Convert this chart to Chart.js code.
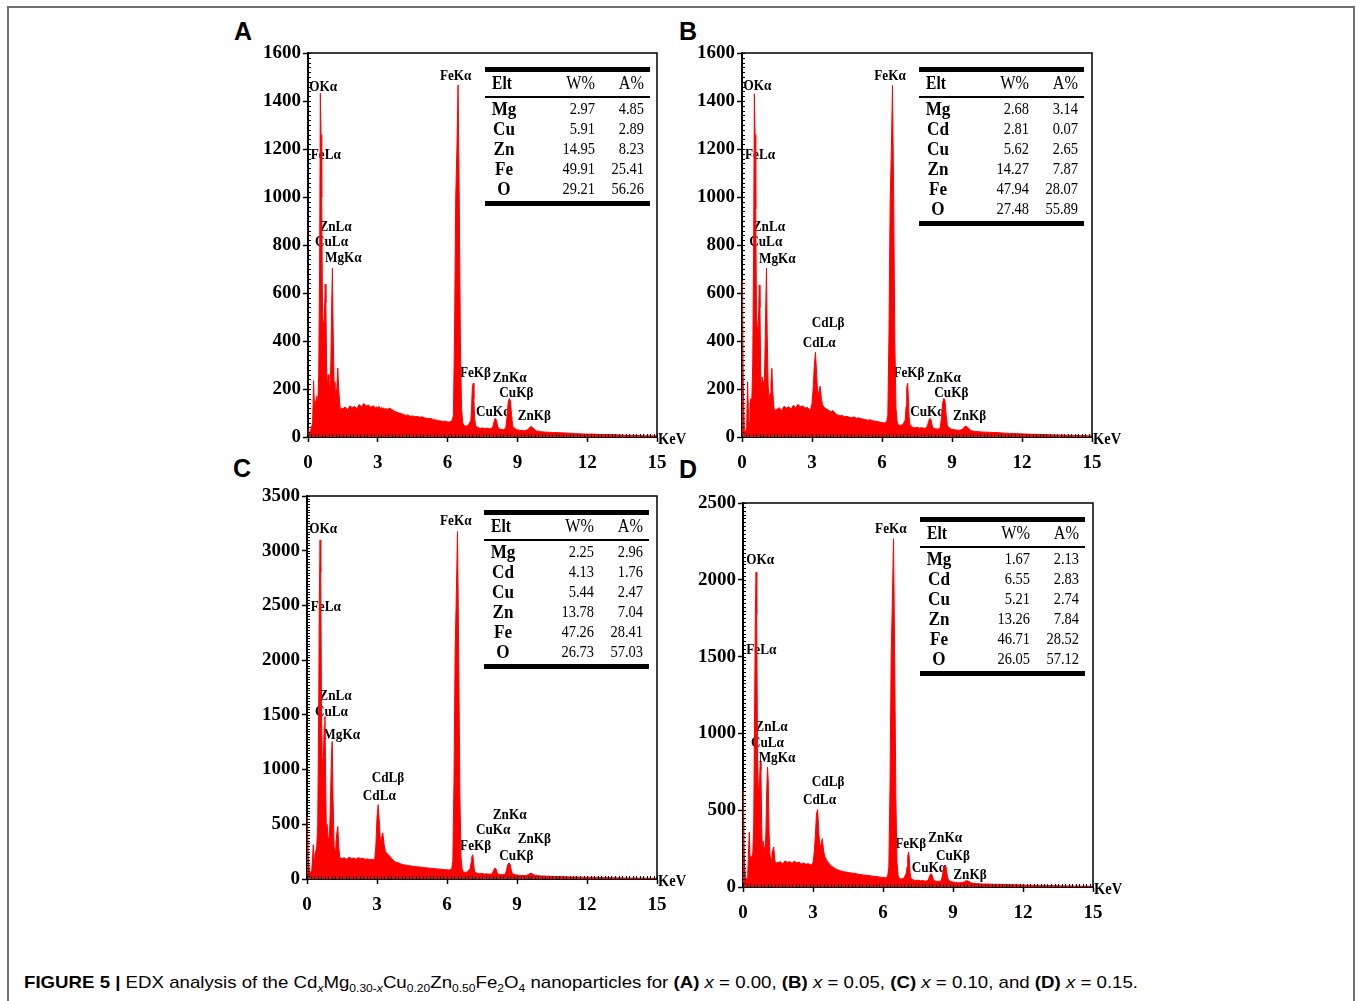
<!DOCTYPE html>
<html>
<head>
<meta charset="utf-8">
<script src="https://cdn.jsdelivr.net/npm/chart.js@4.4.1/dist/chart.umd.min.js"></script>
<style>
  html, body { margin: 0; padding: 0; background: #fff; }
  body { width: 1356px; height: 1001px; position: relative; overflow: hidden; }
  #frame { position: absolute; left: 7px; top: 6px; width: 1344px; height: 1010px; border: 2px solid #707070; border-bottom: none; }
  canvas { position: absolute; }
  .letter { position: absolute; font: bold 25px "Liberation Sans", Arial, sans-serif; line-height: 25px; color: #000; }
  #caption { position: absolute; left: 24px; top: 973px; font: 17px "Liberation Sans", Arial, sans-serif; line-height: 20px; white-space: nowrap; color: #000; transform-origin: 0 0; }
  #caption sub { font-size: 11px; vertical-align: -4px; line-height: 0; }
</style>
</head>
<body>
<div id="frame"></div>
<div class="letter" style="left:234px;top:19px">A</div>
<div class="letter" style="left:679px;top:19px">B</div>
<div class="letter" style="left:233px;top:456px">C</div>
<div class="letter" style="left:679px;top:457px">D</div>
<canvas id="chartA"></canvas>
<canvas id="chartB"></canvas>
<canvas id="chartC"></canvas>
<canvas id="chartD"></canvas>
<div id="caption"><b>FIGURE 5 |</b> EDX analysis of the Cd<sub><i>x</i></sub>Mg<sub>0.30-<i>x</i></sub>Cu<sub>0.20</sub>Zn<sub>0.50</sub>Fe<sub>2</sub>O<sub>4</sub> nanoparticles for <b>(A)</b> <i>x</i> = 0.00, <b>(B)</b> <i>x</i> = 0.05, <b>(C)</b> <i>x</i> = 0.10, and <b>(D)</b> <i>x</i> = 0.15.</div>
<script>
// ─── Energy grid (keV), shared by the four spectra ───
const keV = [
  0, 0.02, 0.05, 0.1, 0.15, 0.2, 0.24, 0.27, 0.3, 0.34, 0.38, 0.42, 0.46, 0.5, 0.53, 0.56, 0.59, 0.62, 0.65, 0.68,
  0.71, 0.74, 0.77, 0.8, 0.83, 0.86, 0.9, 0.94, 0.98, 1.02, 1.05, 1.08, 1.12, 1.16, 1.2, 1.24, 1.28, 1.32, 1.36, 1.4, 1.45,
  1.5, 1.6, 1.7, 1.8, 1.9, 2, 2.1, 2.2, 2.3, 2.4, 2.5, 2.6, 2.7, 2.8, 2.9,
  2.95, 3, 3.05, 3.1, 3.15, 3.2, 3.25, 3.3, 3.35, 3.4, 3.45,
  3.5, 3.6, 3.7, 3.8, 3.9, 4, 4.1, 4.2, 4.3, 4.4, 4.5, 4.6, 4.7, 4.8, 4.9, 5, 5.1, 5.2, 5.3, 5.4, 5.5, 5.6, 5.7, 5.8, 5.9, 6, 6.1, 6.2,
  6.25, 6.3, 6.35, 6.4, 6.45, 6.5, 6.55, 6.6, 6.65,
  6.7, 6.8, 6.9, 7,
  7.03, 7.06, 7.1, 7.13, 7.16, 7.2,
  7.3, 7.4, 7.5, 7.6, 7.7, 7.8, 7.9,
  7.95, 8, 8.05, 8.1, 8.15, 8.2,
  8.3, 8.4, 8.5,
  8.55, 8.6, 8.65, 8.7, 8.75, 8.8,
  8.9, 9, 9.1, 9.2, 9.3, 9.4,
  9.5, 9.55, 9.6, 9.65, 9.7, 9.8, 9.9, 10,
  10.25, 10.5, 10.75, 11, 11.25, 11.5, 11.75, 12, 12.25, 12.5, 12.75, 13, 13.25, 13.5, 13.75, 14, 14.25, 14.5, 14.75, 15
];

// ─── Counts (x = 0.00) ───
const countsA = [
  30, 25, 20, 22, 40, 60, 235, 150, 80, 150, 170, 140, 260, 700, 1432, 1260, 1000, 560, 480, 420,
  520, 637, 560, 300, 200, 260, 240, 180, 300, 560, 703, 450, 230, 160, 190, 200, 287, 200, 140, 110, 120,
  118, 125, 112, 130, 122, 128, 118, 135, 126, 140, 129, 133, 124, 130, 121,
  126, 120, 128, 118, 124, 116, 122, 114, 120, 112, 118,
  120, 115, 108, 104, 100, 98, 94, 90, 92, 86, 88, 84, 86, 82, 84, 80, 78, 76, 77, 72, 71, 68, 67, 65, 66, 63, 62, 70,
  90, 450, 1000, 1200, 1467, 1000, 400, 120, 60,
  48, 45, 50, 70,
  120, 200, 224, 160, 80, 48,
  40, 36, 38, 35, 37, 34, 36,
  45, 65, 78, 70, 45, 34,
  32, 30, 38,
  80, 140, 161, 150, 90, 45,
  34, 30, 28, 27, 26, 28,
  35, 42, 43, 40, 36, 25, 24, 22,
  20, 19, 18, 17, 16, 14, 13, 12, 12, 11, 10, 10, 9, 8, 7, 7, 6, 5, 5, 4
];

// ─── Counts (x = 0.05) ───
const countsB = [
  650, 640, 250, 30, 20, 40, 230, 120, 60, 140, 160, 150, 300, 800, 1430, 1260, 950, 520, 460, 420,
  500, 633, 540, 280, 190, 250, 230, 170, 320, 560, 703, 430, 220, 150, 180, 220, 286, 190, 130, 105, 115,
  115, 122, 110, 128, 120, 126, 116, 132, 122, 136, 126, 130, 120, 124, 112,
  118, 140, 200, 300, 353, 260, 170, 190, 212, 160, 135,
  125, 118, 112, 105, 110, 98, 92, 88, 90, 84, 86, 82, 80, 84, 78, 80, 76, 74, 72, 70, 72, 68, 66, 65, 62, 60, 58, 62,
  90, 440, 980, 1190, 1465, 1000, 400, 120, 62,
  50, 48, 52, 72,
  125, 205, 224, 165, 85, 50,
  42, 38, 40, 37, 39, 36, 38,
  48, 66, 78, 72, 48, 36,
  34, 32, 40,
  82, 142, 161, 152, 92, 48,
  36, 32, 30, 29, 28, 30,
  37, 44, 45, 42, 38, 27, 25, 23,
  21, 20, 19, 18, 16, 15, 14, 13, 12, 11, 11, 10, 9, 8, 8, 7, 6, 6, 5, 4
];

// ─── Counts (x = 0.10) ───
const countsC = [
  572, 560, 200, 80, 60, 70, 200, 313, 180, 220, 260, 300, 500, 1500, 2600, 3099, 2800, 1600, 1100, 950,
  1200, 1400, 1485, 900, 420, 500, 380, 330, 500, 850, 1150, 1257, 700, 300, 260, 330, 420, 480, 300, 200, 190,
  185, 195, 178, 200, 188, 192, 180, 196, 186, 190, 178, 184, 175, 180, 172,
  300, 560, 679, 520, 330, 380, 420, 320, 260, 240, 230,
  220, 195, 170, 155, 148, 140, 132, 128, 124, 120, 118, 115, 112, 110, 108, 105, 102, 100, 98, 95, 94, 92, 90, 88, 86, 84, 82, 90,
  160, 900, 2100, 2600, 3175, 2100, 800, 200, 90,
  65, 60, 68, 100,
  150, 200, 222, 180, 100, 60,
  52, 48, 50, 45, 47, 44, 46,
  55, 80, 100, 92, 60, 44,
  40, 38, 45,
  80, 130, 146, 138, 85, 48,
  40, 36, 34, 32, 31, 33,
  42, 50, 52, 48, 42, 32, 30, 28,
  26, 24, 22, 21, 19, 18, 17, 16, 15, 14, 13, 12, 11, 10, 9, 8, 8, 7, 6, 5
];

// ─── Counts (x = 0.15) ───
const countsD = [
  630, 620, 220, 70, 50, 60, 250, 358, 200, 180, 200, 220, 400, 1200, 1780, 2051, 1780, 900, 650, 600,
  700, 814, 760, 400, 220, 300, 260, 200, 350, 650, 781, 700, 350, 200, 180, 220, 240, 260, 180, 150, 160,
  158, 165, 150, 170, 160, 166, 155, 168, 158, 162, 150, 156, 148, 152, 145,
  145, 160, 220, 330, 480, 504, 350, 260, 280, 315, 240,
  200, 170, 150, 135, 125, 115, 110, 104, 100, 98, 95, 92, 90, 88, 85, 82, 80, 78, 76, 74, 72, 70, 68, 66, 64, 62, 60, 70,
  130, 650, 1500, 1850, 2268, 1500, 600, 160, 75,
  55, 52, 58, 90,
  130, 200, 228, 180, 95, 55,
  46, 42, 44, 40, 42, 38, 40,
  50, 72, 87, 80, 52, 40,
  37, 35, 42,
  78, 125, 141, 132, 80, 45,
  36, 32, 30, 28, 27, 29,
  35, 40, 40, 38, 34, 26, 24, 22,
  20, 19, 18, 17, 16, 15, 14, 13, 12, 11, 10, 10, 9, 8, 7, 7, 6, 5, 5, 4
];

// ─── Axis ticks ───
const xTicks = [0, 3, 6, 9, 12, 15];
const yTicksAB = [0, 200, 400, 600, 800, 1000, 1200, 1400, 1600];
const yTicksC = [0, 500, 1000, 1500, 2000, 2500, 3000, 3500];
const yTicksD = [0, 500, 1000, 1500, 2000, 2500];

// ─── Composition tables ───
const eltA = ['Mg', 'Cu', 'Zn', 'Fe', 'O'];
const eltBCD = ['Mg', 'Cd', 'Cu', 'Zn', 'Fe', 'O'];
const wtA = ['2.97', '5.91', '14.95', '49.91', '29.21'];
const atA = ['4.85', '2.89', '8.23', '25.41', '56.26'];
const wtB = ['2.68', '2.81', '5.62', '14.27', '47.94', '27.48'];
const atB = ['3.14', '0.07', '2.65', '7.87', '28.07', '55.89'];
const wtC = ['2.25', '4.13', '5.44', '13.78', '47.26', '26.73'];
const atC = ['2.96', '1.76', '2.47', '7.04', '28.41', '57.03'];
const wtD = ['1.67', '6.55', '5.21', '13.26', '46.71', '26.05'];
const atD = ['2.13', '2.83', '2.74', '7.84', '28.52', '57.12'];

// ─── Peak labels: text, keV, counts ───
const notesA = [['OKα', 0.05, 1458], ['FeLα', 0.12, 1175], ['ZnLα', 0.49, 876], ['CuLα', 0.3, 814], ['MgKα', 0.73, 745],
  ['FeKα', 5.67, 1504], ['FeKβ', 6.53, 265], ['ZnKα', 7.94, 245], ['CuKβ', 8.22, 182], ['CuKα', 7.22, 105], ['ZnKβ', 9.01, 85]];
const notesB = [['OKα', 0.06, 1460], ['FeLα', 0.13, 1175], ['ZnLα', 0.46, 876], ['CuLα', 0.31, 814], ['MgKα', 0.73, 740],
  ['CdLβ', 2.99, 476], ['CdLα', 2.6, 393], ['FeKα', 5.67, 1504], ['FeKβ', 6.49, 265], ['ZnKα', 7.93, 245],
  ['CuKβ', 8.24, 182], ['CuKα', 7.21, 105], ['ZnKβ', 9.04, 85]];
const notesC = [['OKα', 0.1, 3196], ['FeLα', 0.16, 2489], ['ZnLα', 0.53, 1674], ['CuLα', 0.34, 1521], ['MgKα', 0.7, 1318],
  ['CdLβ', 2.77, 922], ['CdLα', 2.39, 754], ['FeKα', 5.7, 3266], ['ZnKα', 7.96, 587], ['CuKα', 7.24, 450],
  ['ZnKβ', 9.03, 365], ['FeKβ', 6.56, 304], ['CuKβ', 8.24, 206]];
const notesD = [['OKα', 0.14, 2127], ['FeLα', 0.14, 1545], ['ZnLα', 0.53, 1042], ['CuLα', 0.34, 937], ['MgKα', 0.67, 836],
  ['CdLβ', 2.95, 684], ['CdLα', 2.57, 564], ['FeKα', 5.66, 2333], ['FeKβ', 6.52, 278], ['ZnKα', 7.94, 315],
  ['CuKβ', 8.27, 200], ['CuKα', 7.23, 126], ['ZnKβ', 9.01, 76]];

const SERIF = '"Liberation Serif", "Times New Roman", serif';

function drawText(ctx, t, x, y, font, align, sx) {
  ctx.save();
  ctx.translate(x, y);
  ctx.scale(sx, 1);
  ctx.font = font;
  ctx.textAlign = align;
  ctx.textBaseline = 'middle';
  ctx.fillStyle = '#000';
  ctx.fillText(t, 0, 0);
  ctx.restore();
}

function edxPlugin(p) {
  return {
    id: 'edx',
    beforeDatasetsDraw(chart) {
      const ctx = chart.ctx, xs = chart.scales.x, ys = chart.scales.y;
      p.notes.forEach(([t, e, c]) => drawText(ctx, t, xs.getPixelForValue(e), ys.getPixelForValue(c), 'bold 15px ' + SERIF, 'left', 0.88));
    },
    afterDraw(chart) {
      const ctx = chart.ctx, a = chart.chartArea, xs = chart.scales.x, ys = chart.scales.y;
      ctx.save();
      ctx.strokeStyle = '#000';
      ctx.lineWidth = 1.5;
      ctx.beginPath();
      ctx.moveTo(a.left, a.top); ctx.lineTo(a.right, a.top); ctx.lineTo(a.right, a.bottom);
      ctx.stroke();
      // minor ticks, pointing inward
      ctx.lineWidth = 1;
      ctx.beginPath();
      for (let i = 0; i <= 100; i++) {
        const x = Math.round(xs.getPixelForValue(i * 0.15)) + 0.5;
        ctx.moveTo(x, a.bottom); ctx.lineTo(x, a.bottom - 3);
      }
      const top = p.yTicks[p.yTicks.length - 1];
      for (let v = 0; v <= top; v += p.yMinor) {
        const y = Math.round(ys.getPixelForValue(v)) + 0.5;
        ctx.moveTo(a.left, y); ctx.lineTo(a.left + 3, y);
      }
      ctx.stroke();
      ctx.restore();

      drawText(ctx, 'KeV', a.right + 1, a.bottom + 3, 'bold 17px ' + SERIF, 'left', 0.85);

      // composition table
      const L = a.left, T = a.top;
      ctx.fillStyle = '#000';
      ctx.fillRect(L + 177, T + 14, 165, 5);
      drawText(ctx, 'Elt', L + 184, T + 31, 'bold 19px ' + SERIF, 'left', 0.82);
      drawText(ctx, 'W%', L + 287, T + 31, '18px ' + SERIF, 'right', 0.9);
      drawText(ctx, 'A%', L + 336, T + 31, '18px ' + SERIF, 'right', 0.9);
      ctx.fillStyle = '#000';
      ctx.fillRect(L + 177, T + 43, 165, 2);
      p.elt.forEach((el, i) => {
        const y = T + 57 + i * 20;
        drawText(ctx, el, L + 196, y, 'bold 19px ' + SERIF, 'center', 0.9);
        drawText(ctx, p.wt[i], L + 287, y, '17px ' + SERIF, 'right', 0.85);
        drawText(ctx, p.at[i], L + 336, y, '17px ' + SERIF, 'right', 0.85);
      });
      ctx.fillStyle = '#000';
      ctx.fillRect(L + 177, T + 57 + (p.elt.length - 1) * 20 + 11, 165, 5);
    }
  };
}

function makePanel(id, box, counts, yTicks, yMinor, notes, elt, wt, at) {
  const el = document.getElementById(id);
  const padL = 90, padT = 35, padR = 50, padB = 40;
  el.width = box.r - box.l + padL + padR;
  el.height = box.b - box.t + padT + padB;
  el.style.left = (box.l - padL) + 'px';
  el.style.top = (box.t - padT) + 'px';
  const tickFont = { family: SERIF, weight: 'bold', size: 19 };
  new Chart(el, {
    type: 'line',
    data: {
      datasets: [{
        data: keV.map((e, i) => ({ x: e, y: counts[i] })),
        borderColor: '#ff0000', backgroundColor: '#ff0000',
        borderWidth: 1, pointRadius: 0, fill: 'origin', tension: 0
      }]
    },
    options: {
      responsive: false, animation: false, events: [], devicePixelRatio: 1,
      layout: { padding: { left: 0, top: padT, right: padR, bottom: 0 } },
      plugins: { legend: { display: false }, tooltip: { enabled: false } },
      scales: {
        x: {
          type: 'linear', min: 0, max: 15,
          afterBuildTicks: s => { s.ticks = xTicks.map(v => ({ value: v })); },
          afterFit: s => { s.height = padB; },
          ticks: { color: '#000', font: tickFont, padding: 10, autoSkip: false, maxRotation: 0, callback: v => String(v) },
          grid: { drawOnChartArea: false, drawTicks: true, tickLength: 5, tickColor: '#000', tickWidth: 1.5 },
          border: { display: true, color: '#000', width: 2 }
        },
        y: {
          type: 'linear', min: 0, max: yTicks[yTicks.length - 1],
          afterBuildTicks: s => { s.ticks = yTicks.map(v => ({ value: v })); },
          afterFit: s => { s.width = padL; },
          ticks: { color: '#000', font: tickFont, padding: 2, autoSkip: false, callback: v => String(v) },
          grid: { drawOnChartArea: false, drawTicks: true, tickLength: 5, tickColor: '#000', tickWidth: 1.5 },
          border: { display: true, color: '#000', width: 2 }
        }
      }
    },
    plugins: [edxPlugin({ yTicks, yMinor, notes, elt, wt, at })]
  });
}

makePanel('chartA', { l: 308, r: 657, t: 53, b: 437 }, countsA, yTicksAB, 20, notesA, eltA, wtA, atA);
makePanel('chartB', { l: 742, r: 1092, t: 53, b: 437 }, countsB, yTicksAB, 20, notesB, eltBCD, wtB, atB);
makePanel('chartC', { l: 307, r: 657, t: 496, b: 879 }, countsC, yTicksC, 25, notesC, eltBCD, wtC, atC);
makePanel('chartD', { l: 743, r: 1093, t: 503, b: 887 }, countsD, yTicksD, 25, notesD, eltBCD, wtD, atD);

// fit caption to the printed line width
const cap = document.getElementById('caption');
const w = cap.getBoundingClientRect().width;
cap.style.transform = 'scaleX(' + (1114 / w).toFixed(4) + ')';
</script>
</body>
</html>
